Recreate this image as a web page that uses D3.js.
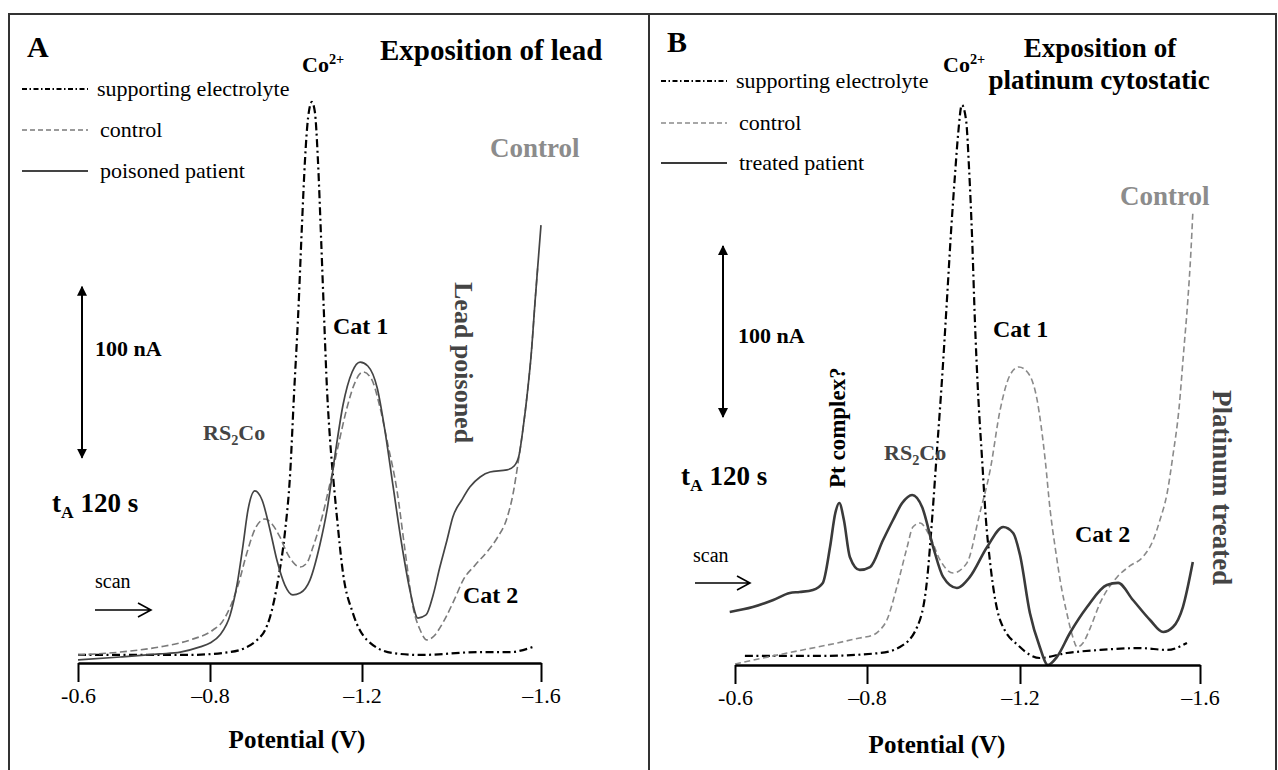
<!DOCTYPE html>
<html><head><meta charset="utf-8">
<script src="https://cdn.jsdelivr.net/npm/d3@7"></script>
<style>
body{margin:0;background:#fff}
svg text{font-family:"Liberation Serif","Times New Roman",serif}
</style>
</head><body>
<svg id="c" width="1278" height="770" font-family="Liberation Serif"></svg>
<script>
// ---- data (potential in V, current in nA above baseline) ----
const tickValues = [-0.6, -0.8, -1.2, -1.6];
const tickLabels = ["-0.6", "\u20130.8", "\u20131.2", "\u20131.6"];
const legendA = ["supporting electrolyte", "control", "poisoned patient"];
const legendB = ["supporting electrolyte", "control", "treated patient"];

const aElectrolyte = [[-0.600,4.7],[-0.679,4.7],[-0.765,4.7],[-0.853,6.4],[-0.892,8.8],[-0.924,13.5],[-0.945,19.3],[-0.958,26.9],[-0.979,48.5],[-0.997,76.0],[-1.011,111.1],[-1.021,156.7],[-1.032,203.5],[-1.042,256.1],[-1.050,294.2],[-1.058,318.7],[-1.068,328.1],[-1.076,322.2],[-1.084,294.2],[-1.092,250.3],[-1.100,203.5],[-1.108,159.6],[-1.116,130.4],[-1.126,104.1],[-1.134,85.4],[-1.150,52.6],[-1.176,29.2],[-1.211,13.5],[-1.269,5.8],[-1.330,4.7],[-1.464,6.4],[-1.531,6.4],[-1.582,9.4]];
const aControl = [[-0.600,4.7],[-0.664,6.4],[-0.724,9.4],[-0.770,13.5],[-0.808,19.3],[-0.832,24.0],[-0.853,32.7],[-0.874,45.6],[-0.897,64.3],[-0.921,79.5],[-0.945,84.2],[-0.963,81.3],[-0.984,73.7],[-1.003,64.3],[-1.018,59.1],[-1.037,56.1],[-1.055,58.5],[-1.071,67.8],[-1.095,85.4],[-1.116,105.3],[-1.139,128.7],[-1.161,149.7],[-1.182,164.3],[-1.202,170.2],[-1.220,166.7],[-1.240,149.7],[-1.258,127.5],[-1.278,101.2],[-1.296,66.1],[-1.314,32.7],[-1.330,19.3],[-1.345,13.5],[-1.361,15.8],[-1.374,20.5],[-1.390,28.1],[-1.408,38.0],[-1.426,48.5],[-1.453,57.3],[-1.479,64.9],[-1.502,73.1],[-1.524,84.8],[-1.537,98.2],[-1.549,117.5],[-1.560,137.4],[-1.569,156.7],[-1.578,180.1],[-1.587,212.3],[-1.593,232.7]];
const aPatient = [[-0.600,1.8],[-0.664,3.5],[-0.724,5.3],[-0.755,6.4],[-0.785,9.4],[-0.800,11.7],[-0.826,16.4],[-0.853,28.1],[-0.871,45.6],[-0.887,69.0],[-0.900,89.5],[-0.918,100.6],[-0.937,95.3],[-0.958,77.8],[-0.976,60.2],[-0.997,45.6],[-1.018,39.8],[-1.037,40.9],[-1.063,48.5],[-1.089,69.0],[-1.108,89.5],[-1.129,121.6],[-1.150,150.9],[-1.174,170.2],[-1.195,176.0],[-1.213,173.7],[-1.234,160.8],[-1.251,136.3],[-1.269,104.1],[-1.289,69.0],[-1.307,42.7],[-1.325,26.3],[-1.343,28.1],[-1.359,39.8],[-1.374,56.1],[-1.390,71.9],[-1.403,85.4],[-1.423,95.3],[-1.441,102.9],[-1.464,108.8],[-1.486,111.7],[-1.524,112.9],[-1.540,115.2],[-1.551,121.6],[-1.560,137.4],[-1.569,156.7],[-1.578,180.1],[-1.587,212.3],[-1.593,232.7],[-1.600,256.1]];

const bElectrolyte = [[-0.615,5.3],[-0.729,5.3],[-0.834,7.0],[-0.886,10.5],[-0.931,22.2],[-0.957,49.7],[-0.970,84.8],[-0.983,125.7],[-0.996,166.7],[-1.009,213.5],[-1.020,254.4],[-1.030,286.5],[-1.038,309.9],[-1.048,327.5],[-1.059,318.7],[-1.067,289.5],[-1.075,248.5],[-1.082,201.8],[-1.090,160.8],[-1.101,119.9],[-1.111,84.8],[-1.122,59.6],[-1.148,26.3],[-1.200,10.5],[-1.244,4.1],[-1.304,7.0],[-1.378,8.8],[-1.467,9.9],[-1.527,8.8],[-1.571,12.9]];
const bControl = [[-0.600,0.6],[-0.679,7.0],[-0.755,12.9],[-0.789,15.8],[-0.816,17.5],[-0.834,20.5],[-0.852,26.3],[-0.878,45.6],[-0.905,69.0],[-0.920,80.7],[-0.939,83.0],[-0.965,74.9],[-0.991,61.4],[-1.025,53.8],[-1.061,59.6],[-1.095,88.9],[-1.122,114.0],[-1.148,149.1],[-1.174,169.6],[-1.197,174.3],[-1.218,170.8],[-1.238,155.0],[-1.256,119.9],[-1.267,90.6],[-1.278,69.0],[-1.293,43.9],[-1.304,30.4],[-1.316,17.5],[-1.327,10.5],[-1.340,12.9],[-1.356,21.6],[-1.378,36.3],[-1.416,51.5],[-1.444,57.9],[-1.473,63.2],[-1.496,73.1],[-1.511,84.8],[-1.527,100.6],[-1.540,122.8],[-1.553,149.1],[-1.564,184.2],[-1.573,213.5],[-1.580,242.7],[-1.584,264.3]];
const bPatient = [[-0.592,31.0],[-0.627,33.9],[-0.658,38.0],[-0.683,42.1],[-0.698,42.7],[-0.718,43.9],[-0.733,48.0],[-0.744,69.0],[-0.752,88.9],[-0.758,94.7],[-0.765,84.8],[-0.774,63.2],[-0.789,55.6],[-0.808,57.3],[-0.842,73.1],[-0.868,84.8],[-0.892,94.7],[-0.918,99.4],[-0.944,92.4],[-0.973,69.0],[-0.999,51.5],[-1.035,45.0],[-1.069,51.5],[-1.114,69.0],[-1.156,80.7],[-1.182,77.2],[-1.200,64.3],[-1.222,30.4],[-1.244,10.5],[-1.262,0.0],[-1.282,4.7],[-1.311,18.7],[-1.349,33.9],[-1.393,46.8],[-1.418,48.0],[-1.451,38.0],[-1.489,26.3],[-1.518,19.3],[-1.540,22.2],[-1.562,33.9],[-1.584,60.2]];

// ---- drawing ----
const svg = d3.select("#c");
svg.append("rect").attr("x",9).attr("y",14).attr("width",1267).attr("height",770)
  .attr("fill","none").attr("stroke","#333").attr("stroke-width",2);
svg.append("line").attr("x1",649).attr("x2",649).attr("y1",14).attr("y2",770)
  .attr("stroke","#333").attr("stroke-width",2);

const defs = svg.append("defs");
defs.append("marker").attr("id","tri").attr("viewBox","0 0 10 10").attr("refX",9).attr("refY",5)
  .attr("markerWidth",10).attr("markerHeight",11).attr("markerUnits","userSpaceOnUse").attr("orient","auto-start-reverse")
  .append("path").attr("d","M0,0L10,5L0,10Z").attr("fill","#000");

const styles = [
  {stroke:"#000", width:2.2, dash:"8,3.5,2,3.5"},
  {stroke:"#7a7a7a", width:1.6, dash:"7,3.5"},
  {stroke:"#444", width:1.7, dash:null}
];
const FONT = "Liberation Serif";

function panel(o){
  const x = d3.scaleLinear().domain(tickValues).range(o.ticksPx);
  const y = d3.scaleLinear().domain([0,100]).range([o.axisY, o.axisY - 171]);
  const g = svg.append("g").attr("font-family",FONT);
  const line = d3.line().x(d=>x(d[0])).y(d=>y(d[1])).curve(d3.curveMonotoneX);
  o.series.forEach((s,i)=>{
    const st = Object.assign({}, styles[i], o.override[i]||{});
    g.append("path").datum(s).attr("d",line).attr("fill","none")
      .attr("stroke",st.stroke).attr("stroke-width",st.width)
      .attr("stroke-dasharray",st.dash).attr("stroke-linejoin","round");
  });
  const ax = g.append("g").attr("transform",`translate(0,${o.axisY})`)
    .call(d3.axisBottom(x).tickValues(tickValues).tickFormat((d,i)=>tickLabels[i]).tickSize(19).tickSizeOuter(0).tickPadding(5));
  ax.attr("font-family",FONT);
  ax.select(".domain").attr("stroke","#000").attr("stroke-width",2.6);
  ax.selectAll(".tick line").attr("stroke","#000").attr("stroke-width",2);
  ax.selectAll(".tick text").attr("font-family",FONT).attr("font-size",22).attr("fill","#000");
  g.append("text").attr("x",o.xlabelX).attr("y",o.xlabelY).attr("text-anchor","middle")
    .attr("font-family",FONT).attr("font-weight","bold").attr("font-size",25).text("Potential (V)");
  o.legend.forEach((t,i)=>{
    const st = Object.assign({}, styles[i], o.override[i]||{});
    const ly = o.legY[i];
    g.append("line").attr("x1",o.legX).attr("x2",o.legX+66).attr("y1",ly).attr("y2",ly)
      .attr("stroke",st.stroke).attr("stroke-width",i===2?1.8:(i===0?2:1.6))
      .attr("stroke-dasharray",i===0?"5,2.5,1.5,2.5":(i===1?"5,3":null));
    g.append("text").attr("x",o.legX+75+(i?3:0)).attr("y",ly+7).attr("font-family",FONT).attr("font-size",22).text(t);
  });
  g.append("line").attr("x1",o.barX).attr("x2",o.barX).attr("y1",y(o.barStart)).attr("y2",y(o.barStart+100))
    .attr("stroke","#000").attr("stroke-width",2)
    .attr("marker-start","url(#tri)").attr("marker-end","url(#tri)");
  const sa = o.scan;
  g.append("path").attr("d",`M${sa[0]},${sa[2]}H${sa[1]}M${sa[1]-13},${sa[2]-7}L${sa[1]},${sa[2]}L${sa[1]-13},${sa[2]+7}`)
    .attr("fill","none").attr("stroke","#000").attr("stroke-width",1.6);
  return g;
}

function txt(g, x, y, s, opt={}){
  const t = g.append("text").attr("x",x).attr("y",y).attr("font-size",opt.size||22)
    .attr("font-family",FONT)
    .attr("font-weight",opt.bold===false?"normal":"bold").attr("fill",opt.fill||"#000");
  if(opt.anchor) t.attr("text-anchor",opt.anchor);
  if(opt.rot) t.attr("transform",`rotate(${opt.rot},${x},${y})`);
  if(s) t.text(s);
  return t;
}
function sup(t, base, s, rest, dy){
  t.append("tspan").text(base);
  t.append("tspan").attr("dy",dy).attr("font-size","65%").text(s);
  if(rest) t.append("tspan").attr("dy",-dy).text(rest);
}

// Panel A
const gA = panel({ticksPx:[78,210,362,541], axisY:663, series:[aElectrolyte,aControl,aPatient], override:[],
  xlabelX:297, xlabelY:748, legend:legendA, legX:22, legY:[89,130,171], barX:82, barStart:120, scan:[95,151,610]});
txt(gA,27,57,"A",{size:30});
sup(txt(gA,302,72,"",{size:22}),"Co","2+",null,-8);
txt(gA,380,60,"Exposition of lead",{size:29});
txt(gA,490,157,"Control",{size:27,fill:"#8c8c8c"});
txt(gA,455,282,"Lead poisoned",{size:26,fill:"#444",rot:90});
txt(gA,333,334,"Cat 1",{size:24});
txt(gA,95,356,"100 nA");
sup(txt(gA,203,440,"",{fill:"#444"}),"RS","2","Co",5);
sup(txt(gA,52,512,"",{size:27}),"t","A"," 120 s",6);
txt(gA,95,588,"scan",{size:20,bold:false});
txt(gA,463,603,"Cat 2",{size:24});

// Panel B
const gB = panel({ticksPx:[735,867,1020,1200], axisY:665, series:[bElectrolyte,bControl,bPatient],
  override:[{},{stroke:"#8a8a8a",width:1.6,dash:"6,3.5"},{stroke:"#3a3a3a",width:2.6}],
  xlabelX:937, xlabelY:753, legend:legendB, legX:661, legY:[81,123,163], barX:723, barStart:145, scan:[695,750,583]});
txt(gB,667,52,"B",{size:30});
sup(txt(gB,943,72,"",{size:22}),"Co","2+",null,-8);
txt(gB,1100,57,"Exposition of",{size:27,anchor:"middle"});
txt(gB,1099,89,"platinum cytostatic",{size:27,anchor:"middle"});
txt(gB,1120,205,"Control",{size:27,fill:"#8c8c8c"});
txt(gB,1213,390,"Platinum treated",{size:27,fill:"#444",rot:90});
txt(gB,993,337,"Cat 1",{size:24});
txt(gB,738,343,"100 nA");
txt(gB,845,488,"Pt complex?",{size:23,rot:-90});
sup(txt(gB,884,460,"",{fill:"#444"}),"RS","2","Co",5);
sup(txt(gB,681,485,"",{size:27}),"t","A"," 120 s",6);
txt(gB,693,562,"scan",{size:20,bold:false});
txt(gB,1075,542,"Cat 2",{size:24});
</script>
</body></html>
